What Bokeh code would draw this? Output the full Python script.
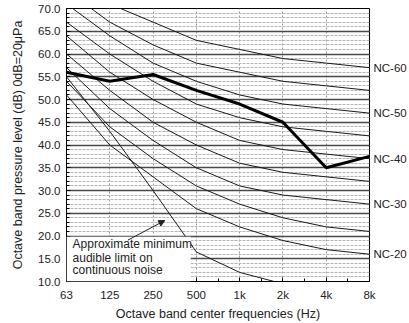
from bokeh.plotting import figure
from bokeh.models import FixedTicker, Label, Arrow, NormalHead, BoxAnnotation, Range1d, LinearAxis
from bokeh.embed import file_html
from bokeh.resources import INLINE

freq_labels = ["63", "125", "250", "500", "1k", "2k", "4k", "8k"]
nc_names = ["NC-20", "NC-25", "NC-30", "NC-35", "NC-40", "NC-45", "NC-50", "NC-55", "NC-60"]
nc20 = [51, 40, 33, 26, 22, 19, 17, 16]
nc25 = [54, 44, 37, 31, 27, 24, 22, 21]
nc30 = [57, 48, 41, 35, 31, 29, 28, 27]
nc35 = [60, 52, 45, 40, 36, 34, 33, 32]
nc40 = [64, 56, 50, 45, 41, 39, 38, 37]
nc45 = [67, 60, 54, 49, 46, 44, 43, 42]
nc50 = [71, 64, 58, 54, 51, 49, 48, 47]
nc55 = [74, 67, 62, 58, 56, 54, 53, 52]
nc60 = [77, 71, 67, 63, 61, 59, 58, 57]
nc_curves = [nc20, nc25, nc30, nc35, nc40, nc45, nc50, nc55, nc60]
labelled = ["NC-20", "NC-30", "NC-40", "NC-50", "NC-60"]
measured = [56, 54, 55.5, 52, 49, 45, 35, 37.5]
threshold_freqs = ["63", "125", "250", "500", "1k", "2k"]
threshold = [55, 43, 30, 16.5, 12, 9.5]
y_ticks = [10, 15, 20, 25, 30, 35, 40, 45, 50, 55, 60, 65, 70]

FONT = "Liberation Sans"
xi = list(range(len(freq_labels)))

p = figure(width=409, height=323, output_backend="svg", toolbar_location=None,
           x_range=Range1d(0, 7), y_range=Range1d(10, 70),
           min_border_left=66, min_border_right=37, min_border_top=8, min_border_bottom=38)
p.outline_line_color = "black"
p.outline_line_width = 1

# grids
p.xgrid.ticker = FixedTicker(ticks=xi)
p.xgrid.grid_line_color = "#999999"
p.xgrid.grid_line_dash = "2 2"
p.ygrid.ticker = FixedTicker(ticks=y_ticks, minor_ticks=list(range(10, 71)))
p.ygrid.grid_line_color = "#4a4a4a"
p.ygrid.grid_line_width = 1.5
p.ygrid.minor_grid_line_color = "#b5b5b5"
p.ygrid.minor_grid_line_dash = "3 1"

# axes
p.xaxis.ticker = FixedTicker(ticks=xi, minor_ticks=[i + 0.5 for i in xi[:-1]])
p.xaxis.major_label_overrides = {i: l for i, l in zip(xi, freq_labels)}
p.yaxis.ticker = FixedTicker(ticks=y_ticks, minor_ticks=list(range(10, 71)))
p.yaxis.major_label_overrides = {v: f"{v:.1f}" for v in y_ticks}
for ax in (p.xaxis[0], p.yaxis[0]):
    ax.major_tick_in = 4
    ax.major_tick_out = 0
    ax.minor_tick_in = 3
    ax.minor_tick_out = 0
    ax.axis_line_color = "black"
    ax.major_label_text_font = FONT
    ax.major_label_text_font_size = "11.5px"
    ax.major_label_text_color = "#222222"
    ax.axis_label_text_font = FONT
    ax.axis_label_text_font_size = "12.5px"
    ax.axis_label_text_font_style = "normal"
    ax.axis_label_text_color = "#222222"
p.xaxis.axis_label = "Octave band center frequencies (Hz)"
p.yaxis.axis_label = "Octave band pressure level (dB) 0dB=20μPa"
p.xaxis.major_label_standoff = 7
p.xaxis.axis_label_standoff = 3
p.yaxis.major_label_standoff = 6
p.yaxis.axis_label_standoff = 10

# NC curves
label_ticks = []
label_over = {}
for name, vals in zip(nc_names, nc_curves):
    p.line(xi, vals, line_color="#1a1a1a", line_width=1)
    if name in labelled:
        label_ticks.append(vals[-1])
        label_over[vals[-1]] = name

right_axis = LinearAxis(ticker=FixedTicker(ticks=label_ticks), major_label_overrides=label_over,
                        major_tick_in=0, major_tick_out=0, minor_tick_in=0, minor_tick_out=0,
                        axis_line_color=None, major_tick_line_color=None, minor_tick_line_color=None,
                        major_label_standoff=4, major_label_text_font=FONT,
                        major_label_text_font_size="11.5px", major_label_text_color="#222222")
p.add_layout(right_axis, "right")

# threshold curve
p.line([freq_labels.index(f) for f in threshold_freqs], threshold, line_color="#1a1a1a", line_width=1)

# measured spectrum
p.line(xi, measured, line_color="black", line_width=3)

# annotation box
p.add_layout(BoxAnnotation(left=0, right=2.87, bottom=10, top=19.85, fill_color="white",
                           fill_alpha=1, line_color=None))
for txt, yv in zip(["Approximate minimum", "audible limit on", "continuous noise"], [18.2, 15.2, 12.5]):
    p.add_layout(Label(x=0.14, y=yv, text=txt, text_baseline="middle", text_font=FONT,
                       text_font_size="12px", text_color="#222222"))
p.add_layout(Arrow(x_start=1.42, y_start=19.1, x_end=2.27, y_end=23.4, line_width=1,
                   line_color="#222222",
                   end=NormalHead(size=6, fill_color="#222222", line_color="#222222")))

open("out.html", "w").write(file_html(p, INLINE))
